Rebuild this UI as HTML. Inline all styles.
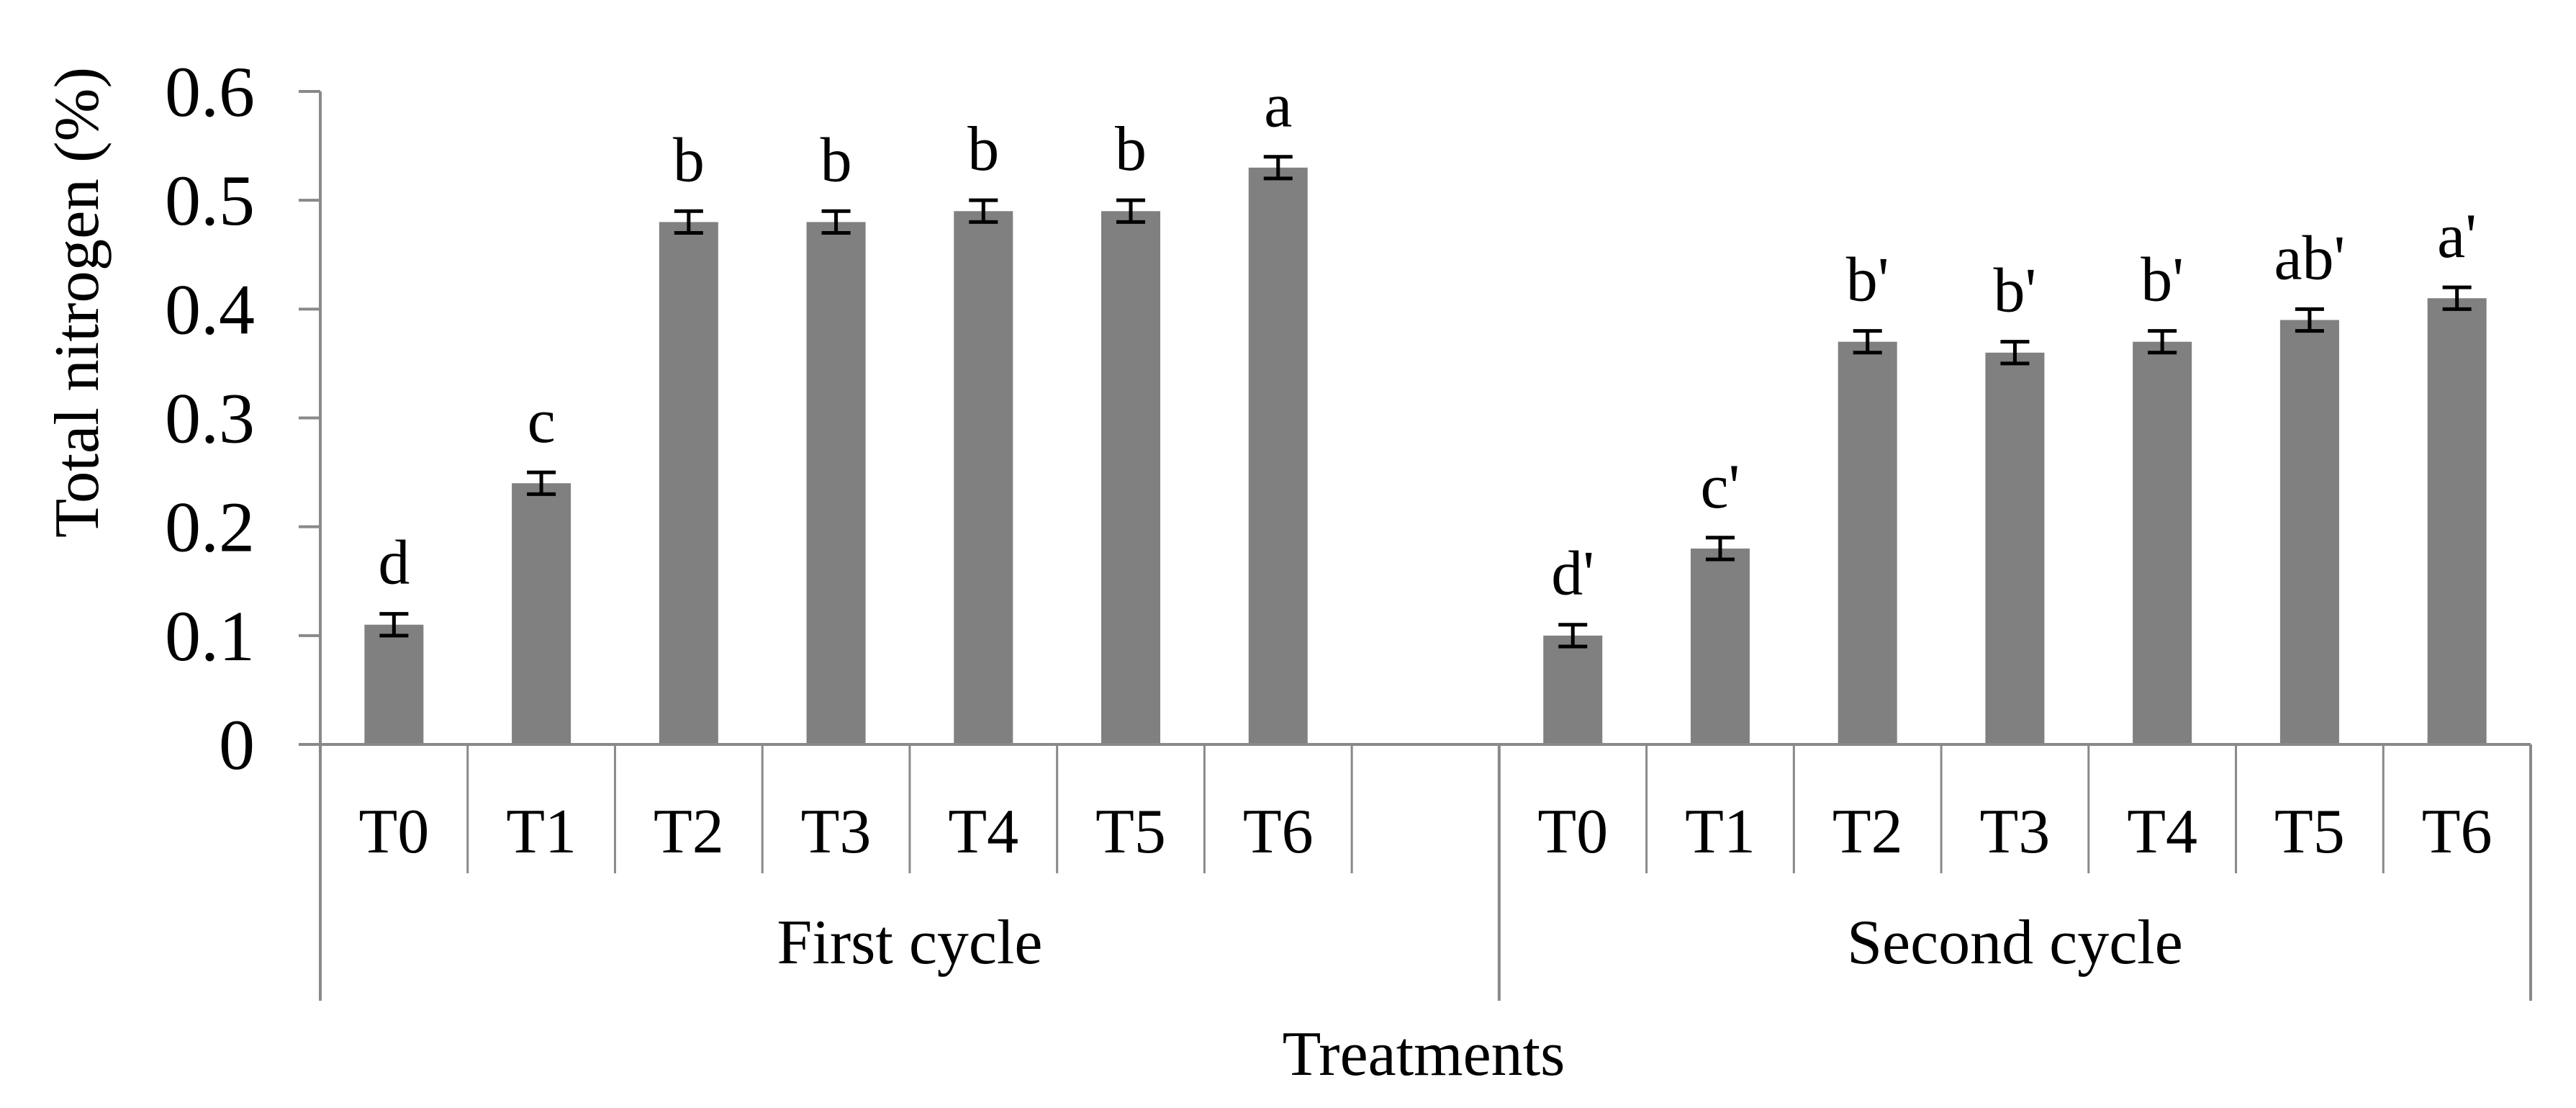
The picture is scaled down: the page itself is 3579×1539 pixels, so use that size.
<!DOCTYPE html>
<html><head><meta charset="utf-8"><style>html,body{margin:0;padding:0;background:#fff}svg{display:block}</style></head>
<body>
<svg id="chart" width="3579" height="1539" viewBox="0 0 3579 1539" xmlns="http://www.w3.org/2000/svg" font-family="'Liberation Serif', serif">
<g id="g"></g>
</svg>
<script>
const groups = ["First cycle", "Second cycle"];
const treatments = ["T0","T1","T2","T3","T4","T5","T6"];
const firstValues = [0.11,0.24,0.48,0.48,0.49,0.49,0.53];
const secondValues = [0.10,0.18,0.37,0.36,0.37,0.39,0.41];
const firstErrors = [0.01,0.01,0.01,0.01,0.01,0.01,0.01];
const secondErrors = [0.01,0.01,0.01,0.01,0.01,0.01,0.01];
const firstLetters = ["d","c","b","b","b","b","a"];
const secondLetters = ["d'","c'","b'","b'","b'","ab'","a'"];
const yTicks = [0,0.1,0.2,0.3,0.4,0.5,0.6];
const yTickLabels = ["0","0.1","0.2","0.3","0.4","0.5","0.6"];

const NS="http://www.w3.org/2000/svg";
const g=document.getElementById('g');
const X0=445, X1=3516, Y0=1034, Y6=127;
const nCat=15, cw=(X1-X0)/nCat, barW=82;
function y(v){return Y0-(v/0.6)*(Y0-Y6);}
function catX(i){return X0+cw*(i+0.5);}
function el(t,a,txt){const e=document.createElementNS(NS,t);for(const k in a)e.setAttribute(k,a[k]);if(txt!==undefined)e.textContent=txt;g.appendChild(e);return e;}
const AX="#898989";

let e=el('line',{x1:X0,y1:Y6,x2:X0,y2:1390,stroke:AX,'stroke-width':4});


yTicks.forEach((t,i)=>{
  let l=el('line',{x1:415,y1:y(t),x2:X0,y2:y(t),stroke:AX,'stroke-width':4});
  
  
  let tx=el('text',{x:354,y:y(t)+34,'text-anchor':'end','font-size':100,fill:'#000'},yTickLabels[i]);
  
  
});
let yt=el('text',{x:0,y:0,transform:'translate(136,420) rotate(-90)','text-anchor':'middle','font-size':88,fill:'#000',textLength:654,lengthAdjust:'spacingAndGlyphs'},'Total nitrogen (%)');



function drawSeries(vals,errs,letters,offset,tag){
  vals.forEach((v,i)=>{
    const cx=catX(i+offset);
    let b=el('rect',{x:cx-barW/2,y:y(v),width:barW,height:Y0-y(v),fill:'#808080'});
    
    
    const top=y(v+errs[i]),bot=y(v-errs[i]);
    let eb=el('path',{d:`M${cx-20},${top}H${cx+20}M${cx},${top}V${bot}M${cx-20},${bot}H${cx+20}`,stroke:'#000','stroke-width':5,fill:'none'});
    
    
    let lt=el('text',{x:cx,y:top-42,'text-anchor':'middle','font-size':88,fill:'#000'},letters[i]);
    
    
  });
}
drawSeries(firstValues,firstErrors,firstLetters,0,'first');
drawSeries(secondValues,secondErrors,secondLetters,8,'second');

let xa=el('line',{x1:415,y1:Y0,x2:X1,y2:Y0,stroke:AX,'stroke-width':4});


for(let i=1;i<=nCat;i++){
  const long=(i===8||i===15);
  let s=el('line',{x1:X0+cw*i,y1:Y0,x2:X0+cw*i,y2:long?1390:1213,stroke:AX,'stroke-width':long?4:3});
  
  
}
treatments.forEach((t,i)=>{
  [0,8].forEach(off=>{
    let tx=el('text',{x:catX(i+off),y:1184,'text-anchor':'middle','font-size':88,fill:'#000'},t);
    
    
  });
});
groups.forEach((gname,k)=>{
  const cx=k===0?(X0+X0+cw*8)/2:(X0+cw*8+X1)/2;
  let tx=el('text',{x:cx,y:1338,'text-anchor':'middle','font-size':88,fill:'#000'},gname);
  
  
});
let xt=el('text',{x:1978,y:1493,'text-anchor':'middle','font-size':88,fill:'#000'},'Treatments');


</script>
</body></html>
